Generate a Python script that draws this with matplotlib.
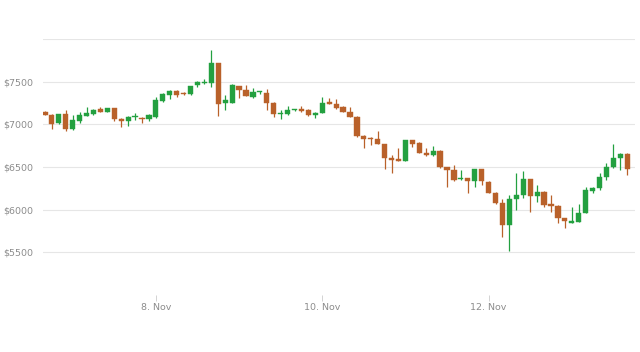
import numpy as np
import matplotlib.pyplot as plt

# 2-hour candles, hours relative to 8 Nov 00:00
start_hour = -32
step_hours = 2

opens = [7150, 7110, 7012, 7117, 6940, 7042, 7100, 7125, 7175, 7148,
         7187, 7062, 7040, 7082, 7077, 7058, 7082, 7277, 7343, 7393,
         7363, 7355, 7460, 7480, 7487, 7714, 7253, 7253, 7448, 7400,
         7323, 7375, 7370, 7253, 7117, 7120, 7165, 7175, 7167, 7110,
         7136, 7265, 7238, 7200, 7148, 7090, 6863, 6836, 6824, 6770,
         6610, 6590, 6575, 6816, 6778, 6667, 6640, 6690, 6496, 6465,
         6358, 6368, 6340, 6473, 6328, 6199, 6075, 5821, 6122, 6172,
         6356, 6160, 6211, 6067, 6043, 5899, 5848, 5860, 5965, 6223,
         6251, 6380, 6496, 6602, 6652]
highs = [7160, 7120, 7125, 7167, 7110, 7147, 7200, 7175, 7206, 7195,
         7195, 7070, 7100, 7129, 7085, 7120, 7323, 7370, 7400, 7400,
         7375, 7455, 7510, 7530, 7870, 7720, 7343, 7475, 7455, 7460,
         7421, 7390, 7420, 7260, 7167, 7214, 7180, 7214, 7180, 7148,
         7323, 7304, 7300, 7210, 7200, 7095, 6870, 6855, 6925, 6775,
         6640, 6720, 6820, 6820, 6790, 6720, 6746, 6695, 6500, 6523,
         6465, 6372, 6480, 6480, 6335, 6205, 6130, 6170, 6426, 6457,
         6365, 6289, 6220, 6172, 6050, 5905, 6028, 6067, 6269, 6260,
         6433, 6550, 6770, 6660, 6660]
lows = [7105, 6945, 7000, 6925, 6930, 7012, 7095, 7115, 7145, 7140,
        7040, 6972, 6985, 7050, 7012, 7040, 7070, 7265, 7296, 7320,
        7350, 7350, 7440, 7475, 7433, 7097, 7167, 7245, 7304, 7330,
        7304, 7360, 7167, 7090, 7058, 7110, 7155, 7150, 7095, 7070,
        7130, 7235, 7185, 7140, 7085, 6855, 6719, 6758, 6765, 6473,
        6426, 6570, 6570, 6740, 6660, 6630, 6630, 6490, 6270, 6340,
        6350, 6199, 6270, 6289, 6190, 6070, 5684, 5520, 5997, 6133,
        5977, 6094, 6028, 5975, 5840, 5782, 5840, 5850, 5960, 6200,
        6230, 6348, 6490, 6465, 6406]
closes = [7115, 7010, 7117, 6940, 7050, 7108, 7130, 7167, 7148, 7187,
          7058, 7042, 7090, 7088, 7062, 7108, 7285, 7355, 7393, 7343,
          7358, 7450, 7492, 7500, 7714, 7238, 7285, 7460, 7400, 7335,
          7375, 7379, 7253, 7117, 7121, 7167, 7170, 7155, 7110, 7130,
          7253, 7238, 7187, 7148, 7090, 6863, 6824, 6824, 6770, 6602,
          6582, 6575, 6816, 6770, 6667, 6640, 6690, 6496, 6465, 6348,
          6362, 6340, 6473, 6340, 6199, 6075, 5821, 6122, 6172, 6356,
          6160, 6211, 6055, 6043, 5899, 5871, 5871, 5965, 6231, 6251,
          6387, 6496, 6602, 6652, 6473]

tick_hours = [0, 48, 96]
tick_labels = ['8. Nov', '10. Nov', '12. Nov']
y_ticks = [5500, 6000, 6500, 7000, 7500]
y_labels = ['$5500', '$6000', '$6500', '$7000', '$7500']

up_color = '#23a040'
down_color = '#b9612a'

x = start_hour + step_hours * np.arange(len(opens))
o = np.array(opens)
c = np.array(closes)
colors = [up_color if cc >= oo else down_color for oo, cc in zip(o, c)]

fig = plt.figure(figsize=(6.4, 3.52), dpi=100)
ax = fig.add_axes([0.067, 0.162, 0.925, 0.727])

# grid
for y in y_ticks + [8000]:
    ax.axhline(y, color='#e6e6e6', linewidth=0.8, zorder=0)

# wicks and bodies
ax.vlines(x, lows, highs, colors=colors, linewidth=0.9, zorder=2)
body_bottom = np.minimum(o, c)
body_height = np.maximum(np.abs(c - o), 12)
ax.bar(x, body_height, bottom=body_bottom, width=1.5, color=colors,
       edgecolor=colors, linewidth=0.3, zorder=3)

ax.set_xlim(-32.6, 138.2)
ax.set_ylim(5000, 8000)

ax.set_yticks(y_ticks)
ax.set_yticklabels(y_labels)
ax.set_xticks(tick_hours)
ax.set_xticklabels(tick_labels)
ax.tick_params(axis='y', length=0, pad=7, labelsize=6.8, labelcolor='#8c8c8c')
ax.tick_params(axis='x', length=4.5, width=0.6, color='#cccccc', pad=1.5,
               labelsize=6.8, labelcolor='#8c8c8c')

for side in ['top', 'right', 'left', 'bottom']:
    ax.spines[side].set_visible(False)

fig.savefig('out.png', dpi=100, facecolor='white')
